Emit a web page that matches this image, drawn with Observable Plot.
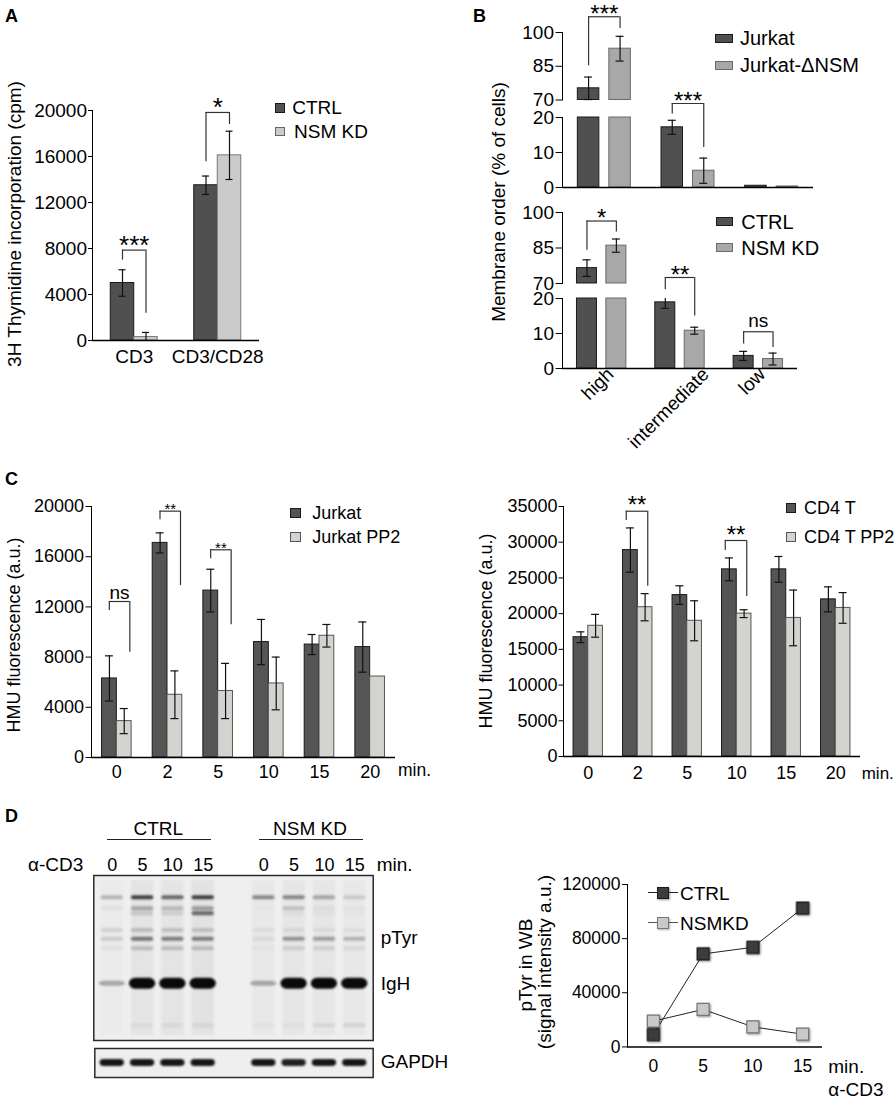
<!DOCTYPE html>
<html><head><meta charset="utf-8">
<script src="https://cdn.jsdelivr.net/npm/d3@7"></script>
<script src="https://cdn.jsdelivr.net/npm/@observablehq/plot@0.6"></script>
<style>
html,body{margin:0;padding:0;background:#fff;overflow:hidden;}
#fig{position:relative;width:896px;height:1099px;overflow:hidden;font-family:"Liberation Sans",Arial,sans-serif;color:#000;}
.t{position:absolute;white-space:nowrap;line-height:1;}
</style></head><body><div id="fig"></div>
<script>
// ---------------- DATA ----------------
// Panel A
const groupsA = ["CD3", "CD3/CD28"];
const ctrlA = [5000, 13500];
const ctrlAErr = [1150, 800];
const nsmA = [300, 16100];
const nsmAErr = [400, 2100];
const ticksA = [0, 4000, 8000, 12000, 16000, 20000];
const bracketsA = [
  {g: "CD3", top: 7860, l: 6990, r: 2360, label: "***"},
  {g: "CD3/CD28", top: 19830, l: 15550, r: 18780, label: "*"}
];
// Panel B
const groupsB = ["high", "intermediate", "low"];
const jurkatB = [75.2, 17.2, 0.5];
const jurkatBErr = [5, 2, 0];
const dnsmB = [92.8, 4.8, 0.3];
const dnsmBErr = [5.5, 3.6, 0];
const ctrlB = [76.5, 18.9, 3.6];
const ctrlBErr = [3.5, 1.7, 1.3];
const nsmB = [86, 10.8, 2.7];
const nsmBErr = [2.8, 1, 1.7];
const ticksBUpper = [70, 85, 100];
const ticksBLower = [0, 10, 20];
const bracketsBTopUpper = [{g: "high", top: 107, l: 85.2, r: 101.8, label: "***"}];
const bracketsBTopLower = [{g: "intermediate", top: 24, l: 21, r: 11.4, label: "***"}];
const bracketsBBotUpper = [{g: "high", top: 96.4, l: 84, r: 91.8, label: "*"}];
const bracketsBBotLower = [
  {g: "intermediate", top: 26, l: 22.5, r: 15, label: "**"},
  {g: "low", top: 10.5, l: 7, r: 6, label: "ns"}
];
// Panel C
const minutesC = ["0", "2", "5", "10", "15", "20"];
const jurkatC = [6300, 17100, 13300, 9200, 9000, 8800];
const jurkatCErr = [1800, 800, 1700, 1800, 800, 2000];
const pp2C = [2900, 5000, 5300, 5900, 9700, 6450];
const pp2CErr = [1000, 1900, 2200, 2100, 900, 0];
const ticksCLeft = [0, 4000, 8000, 12000, 16000, 20000];
const bracketsCLeft = [
  {g: "0", top: 12430, l: 11720, r: 8390, label: "ns"},
  {g: "2", top: 19630, l: 18940, r: 13700, label: "**"},
  {g: "5", top: 16550, l: 15830, r: 10570, label: "**"}
];
const cd4C = [16700, 28900, 22600, 26200, 26200, 22000];
const cd4CErr = [750, 3100, 1300, 1600, 1800, 1750];
const cd4pp2C = [18300, 20900, 19000, 20000, 19400, 20800];
const cd4pp2CErr = [1600, 1900, 2800, 550, 3900, 2150];
const ticksCRight = [0, 5000, 10000, 15000, 20000, 25000, 30000, 35000];
const bracketsCRight = [
  {g: "2", top: 34340, l: 33040, r: 23840, label: "**"},
  {g: "10", top: 30240, l: 28840, r: 22400, label: "**"}
];
// Panel D (quantification)
const minutesD = [0, 5, 10, 15];
const ctrlD = [9000, 68700, 73600, 102500];
const nsmD = [19000, 27700, 14800, 9400];
const ticksDy = [0, 40000, 80000, 120000];
const ticksDx = [0, 5, 10, 15];
// Panel D (western blot, band intensities 0..1 per lane, rows = migration % of gel)
const blotLanes = ["C0", "C5", "C10", "C15", "gap", "N0", "N5", "N10", "N15"];
const laneTimes = ["0", "5", "10", "15", "", "0", "5", "10", "15"];
const realLanes = ["C0", "C5", "C10", "C15", "N0", "N5", "N10", "N15"];
const pTyrRows = [13.5, 20.2, 23.2, 33.3, 38.6, 44.4, 91];
const pTyrIntensity = [
  [0.25, 0.8, 0.6, 0.8, 0.45, 0.45, 0.3, 0.15],
  [0.05, 0.3, 0.22, 0.35, 0.02, 0.18, 0.05, 0.03],
  [0, 0.15, 0.12, 0.6, 0, 0.05, 0.03, 0.02],
  [0.12, 0.2, 0.18, 0.18, 0.06, 0.08, 0.06, 0.05],
  [0.15, 0.55, 0.5, 0.5, 0.08, 0.4, 0.35, 0.25],
  [0.05, 0.2, 0.2, 0.2, 0.03, 0.12, 0.12, 0.08],
  [0, 0.05, 0.06, 0.06, 0.03, 0.04, 0.08, 0.1]
];
const laneSmear = [0.02, 0.05, 0.05, 0.06, 0.03, 0.04, 0.04, 0.03];
const igHRow = 65.6;
const igHIntensity = [0.3, 1, 1, 1, 0.3, 1, 1, 1];
const gapdhIntensity = [0.95, 0.95, 0.95, 0.95, 0.95, 0.9, 0.95, 0.95];

// ---------------- HELPERS ----------------
const fig = document.getElementById("fig");
const FONT = '"Liberation Sans", Arial, sans-serif';
const DARK = "#505050", DARKS = "#1a1a1a";

function chart({rect, m, fontSize, x, y, marks}) {
  const [x0, y0, x1, y1] = rect;
  const svg = Plot.plot({
    width: x1 - x0 + m[1] + m[3], height: y1 - y0 + m[0] + m[2],
    marginTop: m[0], marginRight: m[1], marginBottom: m[2], marginLeft: m[3],
    style: {fontFamily: FONT, fontSize: fontSize + "px", background: "transparent", color: "#000", overflow: "visible"},
    x, y, marks
  });
  svg.style.position = "absolute";
  svg.style.left = (x0 - m[3]) + "px";
  svg.style.top = (y0 - m[0]) + "px";
  svg.style.overflow = "visible";
  fig.appendChild(svg);
  return svg;
}

function barMarks({groups, series, step, barW, capW, yMin, yMax}) {
  const marks = [];
  series.forEach(s => {
    const data = groups.map((g, i) => ({g, v: s.values[i]}));
    marks.push(Plot.barY(data.filter(d => d.v > yMin), {
      x: "g", y1: yMin, y2: d => Math.min(d.v, yMax),
      fill: s.fill, stroke: s.stroke, strokeWidth: 1,
      insetLeft: step / 2 + s.off - barW / 2, insetRight: step / 2 - s.off - barW / 2
    }));
  });
  series.forEach(s => {
    const data = groups.map((g, i) => ({g, v: s.values[i], e: s.errors[i]}))
      .filter(d => d.e > 0 && d.v + d.e > yMin && d.v - d.e < yMax);
    const st = {stroke: "#111", strokeWidth: 1.2};
    marks.push(Plot.ruleX(data, {x: "g", dx: s.off, y1: d => Math.max(d.v - d.e, yMin), y2: d => Math.min(d.v + d.e, yMax), ...st}));
    const cl = step / 2 + s.off - capW / 2, cr = step / 2 - s.off - capW / 2;
    marks.push(Plot.tickY(data.filter(d => d.v + d.e <= yMax), {x: "g", y: d => d.v + d.e, insetLeft: cl, insetRight: cr, ...st}));
    marks.push(Plot.tickY(data.filter(d => d.v - d.e >= yMin), {x: "g", y: d => d.v - d.e, insetLeft: cl, insetRight: cr, ...st}));
  });
  return marks;
}

function bracketMarks({data, step, offL, offR, starSize, starDy, nsSize, nsDy}) {
  const st = {stroke: "#333", strokeWidth: 1.2};
  return [
    Plot.ruleX(data, {x: "g", dx: offL, y1: "l", y2: "top", ...st}),
    Plot.ruleX(data, {x: "g", dx: offR, y1: "r", y2: "top", ...st}),
    Plot.tickY(data, {x: "g", y: "top", insetLeft: step / 2 + offL, insetRight: step / 2 - offR, ...st}),
    Plot.text(data.filter(d => d.label !== "ns"), {x: "g", y: "top", text: "label", dx: (offL + offR) / 2, dy: starDy, lineAnchor: "bottom", fontSize: starSize}),
    Plot.text(data.filter(d => d.label === "ns"), {x: "g", y: "top", text: "label", dx: (offL + offR) / 2, dy: nsDy, lineAnchor: "bottom", fontSize: nsSize})
  ];
}

function label(text, x, cy, size, opts = {}) {
  const d = document.createElement("div");
  d.className = "t";
  d.textContent = text;
  d.style.fontSize = size + "px";
  if (opts.bold) d.style.fontWeight = "bold";
  d.style.left = x + "px"; d.style.top = cy + "px";
  if (opts.rotate) {
    d.style.transform = "translate(-50%,-50%) rotate(-90deg)";
  } else {
    const tx = opts.anchor === "middle" ? "-50%" : opts.anchor === "end" ? "-100%" : "0";
    d.style.transform = `translate(${tx},-50%)`;
  }
  fig.appendChild(d);
}
function box(x, y, w, h, fill, stroke) {
  const d = document.createElement("div");
  d.style.cssText = `position:absolute;left:${x}px;top:${y}px;width:${w}px;height:${h}px;background:${fill};box-sizing:border-box;border:${stroke ? "1px solid " + stroke : "none"};`;
  fig.appendChild(d);
  return d;
}

// ---------------- PANEL A ----------------
{
  const step = 167 / 2;
  chart({
    rect: [92, 110, 259, 340], m: [60, 12, 40, 80], fontSize: 19,
    x: {domain: groupsA, padding: 0, round: false, tickSize: 0, tickPadding: 9, label: null},
    y: {domain: [0, 20000], ticks: ticksA, tickFormat: "d", tickSize: 4, tickPadding: 1.5, label: null, line: true},
    marks: [
      ...barMarks({groups: groupsA, step, barW: 23.5, capW: 7, yMin: 0, yMax: 20000, series: [
        {values: ctrlA, errors: ctrlAErr, fill: DARK, stroke: DARKS, off: -11.75},
        {values: nsmA, errors: nsmAErr, fill: "#cbcbcb", stroke: "#7a7a7a", off: 11.75}
      ]}),
      Plot.ruleY([0], {strokeWidth: 1.5}),
      ...bracketMarks({data: bracketsA, step, offL: -11.75, offR: 11.75, starSize: 26, starDy: 4})
    ]
  });
  label("A", 5, 15.5, 18, {bold: true});
  label("3H Thymidine incorporation (cpm)", 14, 224, 19, {rotate: true});
  box(275.3, 103, 10, 9.5, DARK, DARKS); label("CTRL", 292.3, 107, 19);
  box(275.3, 126.5, 10, 9.5, "#cbcbcb", "#666"); label("NSM KD", 294, 130.7, 19);
}

// ---------------- PANEL B ----------------
{
  const LIGHTB = "#a8a8a8", LIGHTBS = "#6a6a6a";
  const labelShift = {high: 13, intermediate: 30, low: 8};
  const seg = (rectY, domain, ticks, brackets, xLabels, vals, right, barW, off, step) => {
    const [yMin, yMax] = domain;
    chart({
      rect: [562, rectY[0], right, rectY[1]], m: [30, 10, xLabels ? 110 : 2, 80], fontSize: 19,
      x: {domain: groupsB, padding: 0, round: false, axis: null},
      y: {domain, ticks, tickFormat: "d", tickSize: 6.5, tickPadding: 2, label: null, line: true},
      marks: [
        ...barMarks({groups: groupsB, step, barW, capW: 8, yMin, yMax, series: [
          {values: vals[0], errors: vals[1], fill: DARK, stroke: DARKS, off: -off},
          {values: vals[2], errors: vals[3], fill: LIGHTB, stroke: LIGHTBS, off: off}
        ]}),
        ...(yMin === 0 ? [Plot.ruleY([0], {strokeWidth: 1.5})] : []),
        ...(xLabels ? groupsB.map(gname => Plot.text([gname], {x: d => d, text: d => d, frameAnchor: "bottom", rotate: -45, textAnchor: "end", dx: labelShift[gname], dy: 7, fontSize: 19})) : []),
        ...bracketMarks({data: brackets, step, offL: -off, offR: off, starSize: 24, starDy: 5, nsSize: 19, nsDy: -4.4})
      ]
    });
  };
  const topVals = [jurkatB, jurkatBErr, dnsmB, dnsmBErr];
  const botVals = [ctrlB, ctrlBErr, nsmB, nsmBErr];
  seg([32, 99.5], [70, 100], ticksBUpper, bracketsBTopUpper, false, topVals, 813, 21.5, 15.75, 251 / 3);
  seg([116.7, 186.7], [0, 20], ticksBLower, bracketsBTopLower, false, topVals, 813, 21.5, 15.75, 251 / 3);
  seg([212.3, 283.3], [70, 100], ticksBUpper, bracketsBBotUpper, false, botVals, 797, 20, 14.7, 235 / 3);
  seg([297.7, 367.7], [0, 20], ticksBLower, bracketsBBotLower, true, botVals, 797, 20, 14.7, 235 / 3);

  label("B", 473, 15.5, 18, {bold: true});
  label("Membrane order (% of cells)", 498, 201.5, 19, {rotate: true});
  box(715, 33.8, 18, 9, DARK, DARKS); label("Jurkat", 740, 38.3, 20);
  box(715, 60.5, 18, 9, LIGHTB, LIGHTBS); label("Jurkat-ΔNSM", 740, 65, 20);
  box(715.7, 216.5, 17.5, 9, DARK, DARKS); label("CTRL", 741.3, 221.7, 20);
  box(715.7, 243.2, 17.5, 9, LIGHTB, LIGHTBS); label("NSM KD", 741.3, 248.3, 20);
}

// ---------------- PANEL C ----------------
{
  const LIGHTC = "#d3d3cf", LIGHTCS = "#555";
  const stepL = 304 / 6;
  chart({
    rect: [91, 506, 395, 757], m: [40, 10, 40, 80], fontSize: 18,
    x: {domain: minutesC, padding: 0, round: false, tickSize: 0, tickPadding: 8, label: null},
    y: {domain: [0, 20000], ticks: ticksCLeft, tickFormat: "d", tickSize: 5.5, tickPadding: 2, label: null, line: true},
    marks: [
      ...barMarks({groups: minutesC, step: stepL, barW: 14.8, capW: 8, yMin: 0, yMax: 20000, series: [
        {values: jurkatC, errors: jurkatCErr, fill: "#555", stroke: DARKS, off: -7.4},
        {values: pp2C, errors: pp2CErr, fill: LIGHTC, stroke: LIGHTCS, off: 7.4}
      ]}),
      Plot.ruleY([0], {strokeWidth: 1.5}),
      ...bracketMarks({data: bracketsCLeft, step: stepL, offL: -7.5, offR: 13, starSize: 15, starDy: 3, nsSize: 19, nsDy: -2.7})
    ]
  });
  const stepR = 297 / 6;
  chart({
    rect: [563, 506, 860, 756], m: [40, 10, 40, 80], fontSize: 18,
    x: {domain: minutesC, padding: 0, round: false, tickSize: 0, tickPadding: 10, label: null},
    y: {domain: [0, 35000], ticks: ticksCRight, tickFormat: "d", tickSize: 4.5, tickPadding: 1.5, label: null, line: true},
    marks: [
      ...barMarks({groups: minutesC, step: stepR, barW: 14.7, capW: 8, yMin: 0, yMax: 35000, series: [
        {values: cd4C, errors: cd4CErr, fill: "#555", stroke: DARKS, off: -7.35},
        {values: cd4pp2C, errors: cd4pp2CErr, fill: LIGHTC, stroke: LIGHTCS, off: 7.35}
      ]}),
      Plot.ruleY([0], {strokeWidth: 1.5}),
      ...bracketMarks({data: bracketsCRight, step: stepR, offL: -11.5, offR: 10, starSize: 24, starDy: 2})
    ]
  });
  label("C", 5, 478.5, 18, {bold: true});
  label("HMU fluorescence (a.u.)", 14, 635, 18, {rotate: true});
  label("HMU fluorescence (a.u.)", 486, 631, 18, {rotate: true});
  box(290, 507.7, 11, 10, "#555", DARKS); label("Jurkat", 312.3, 513, 18);
  box(290, 531.7, 11, 10, LIGHTC, LIGHTCS); label("Jurkat PP2", 312.3, 537, 18);
  box(786.3, 503.3, 10, 10, "#555", DARKS); label("CD4 T", 804, 508.3, 18);
  box(786.3, 531.7, 10, 10, LIGHTC, LIGHTCS); label("CD4 T PP2", 804, 536.7, 18);
  label("min.", 398, 771, 17.5);
  label("min.", 861.7, 773, 17);
}

// ---------------- PANEL D : quantification ----------------
{
  const ctrl = minutesD.map((t, i) => ({t, v: ctrlD[i]}));
  const nsm = minutesD.map((t, i) => ({t, v: nsmD[i]}));
  const svgD = chart({
    rect: [626.7, 884.3, 821.7, 1046.7], m: [20, 10, 40, 80], fontSize: 17.5,
    x: {type: "linear", domain: [-2.6, 17], ticks: ticksDx, tickFormat: "d", tickSize: 0, tickPadding: 13, label: null},
    y: {domain: [0, 120000], ticks: ticksDy, tickFormat: "d", tickSize: 5, tickPadding: 2, label: null, line: true},
    marks: [
      Plot.ruleY([0], {strokeWidth: 1.5}),
      Plot.line(nsm, {x: "t", y: "v", stroke: "#222", strokeWidth: 1}),
      Plot.line(ctrl, {x: "t", y: "v", stroke: "#222", strokeWidth: 1}),
      Plot.dot(nsm, {x: "t", y: "v", symbol: "square", r: 6.8, fill: "#c9c9c9", stroke: "#777", strokeWidth: 1.2}),
      Plot.dot(ctrl, {x: "t", y: "v", symbol: "square", r: 6.8, fill: "#3c3c3c", stroke: "#1a1a1a", strokeWidth: 1.2})
    ]
  });
  svgD.querySelectorAll('g[aria-label="dot"]').forEach(g => g.style.filter = "drop-shadow(1px 1px 1px rgba(0,0,0,0.45))");
  label("pTyr in WB", 525, 965, 19, {rotate: true});
  label("(signal intensity a.u.)", 544, 962, 19, {rotate: true});
  box(648, 892.2, 30, 1, "#222");
  const s1 = box(657, 886.7, 12, 12, "#3c3c3c", "#1a1a1a"); s1.style.boxShadow = "1px 1px 2px rgba(0,0,0,0.4)";
  label("CTRL", 680, 893, 19);
  box(648, 922.2, 30, 1, "#555");
  const s2 = box(657, 916.7, 12, 12, "#c9c9c9", "#777"); s2.style.boxShadow = "1px 1px 2px rgba(0,0,0,0.3)";
  label("NSMKD", 680, 922.7, 19);
  label("min.", 828.3, 1066, 19);
  label("α-CD3", 828.3, 1089, 19);
}

// ---------------- PANEL D : western blot ----------------
{
  const laneTime = Object.fromEntries(blotLanes.map((l, i) => [l, laneTimes[i]]));
  const bands = [];
  pTyrRows.forEach((row, r) => realLanes.forEach((lane, i) => {
    if (pTyrIntensity[r][i] > 0) bands.push({lane, row, v: pTyrIntensity[r][i]});
  }));
  const igh = realLanes.map((lane, i) => ({lane, row: igHRow, v: igHIntensity[i]}));
  const smear = realLanes.map((lane, i) => ({lane, v: laneSmear[i]}));
  const xBlot = {domain: blotLanes, range: [96.6, 369.4], padding: 0, round: false};
  const svgW = 400;
  const blot = Plot.plot({
    width: svgW, height: 30 + 165 + 4,
    marginTop: 30, marginBottom: 4, marginLeft: 93.3, marginRight: svgW - 372.7,
    style: {fontFamily: FONT, fontSize: "18px", background: "transparent", color: "#000", overflow: "visible"},
    x: {...xBlot, axis: "top", tickSize: 0, tickPadding: 5, tickFormat: l => laneTime[l], label: null},
    y: {domain: [0, 100], reverse: true, axis: null},
    marks: [
      Plot.frame({fill: "#efefef", stroke: "none"}),
      Plot.barY(smear, {x: "lane", y1: 3, y2: 97, fill: "#222", fillOpacity: "v", insetLeft: 4, insetRight: 4}),
      Plot.barY(bands, {x: "lane", y1: d => d.row - 1.2, y2: d => d.row + 1.2, fill: "#151515", fillOpacity: "v", insetLeft: 4, insetRight: 4, rx: 2}),
      Plot.barY(igh, {x: "lane", y1: d => d.row - (d.v > 0.5 ? 3.3 : 1.5), y2: d => d.row + (d.v > 0.5 ? 3.3 : 1.5), fill: "#0a0a0a", fillOpacity: "v", insetLeft: 2, insetRight: 2, rx: 6}),
      Plot.frame({stroke: "#2a2a2a", strokeWidth: 1.5})
    ]
  });
  blot.style.cssText += ";position:absolute;left:0px;top:845px;overflow:visible;";
  blot.querySelectorAll('g[aria-label="bar"]').forEach(g => g.style.filter = "blur(0.9px)");
  fig.appendChild(blot);

  const gapdh = realLanes.map((lane, i) => ({lane, v: gapdhIntensity[i]}));
  const g = Plot.plot({
    width: svgW, height: 8 + 29 + 4,
    marginTop: 8, marginBottom: 4, marginLeft: 94.3, marginRight: svgW - 372.7,
    style: {fontFamily: FONT, fontSize: "18px", background: "transparent", overflow: "visible"},
    x: {...xBlot, axis: null},
    y: {domain: [0, 100], reverse: true, axis: null},
    marks: [
      Plot.frame({fill: "#efefef", stroke: "none"}),
      Plot.barY(gapdh, {x: "lane", y1: 38, y2: 62, fill: "#0a0a0a", fillOpacity: "v", insetLeft: 3, insetRight: 3, rx: 4}),
      Plot.frame({stroke: "#2a2a2a", strokeWidth: 1.5})
    ]
  });
  g.style.cssText += ";position:absolute;left:0px;top:1039.7px;overflow:visible;";
  g.querySelectorAll('g[aria-label="bar"]').forEach(el => el.style.filter = "blur(0.8px)");
  fig.appendChild(g);

  label("D", 5, 816.2, 18, {bold: true});
  label("CTRL", 158.3, 827.7, 19, {anchor: "middle"});
  box(107.3, 839, 103.7, 1.2, "#222");
  label("NSM KD", 310, 827.7, 19, {anchor: "middle"});
  box(259, 839, 103.7, 1.2, "#222");
  label("α-CD3", 28, 864.3, 19);
  label("min.", 376.7, 864.3, 19);
  label("pTyr", 380.7, 937, 19);
  label("IgH", 380.7, 982.7, 19);
  label("GAPDH", 380.7, 1061, 19);
}
</script></body></html>
